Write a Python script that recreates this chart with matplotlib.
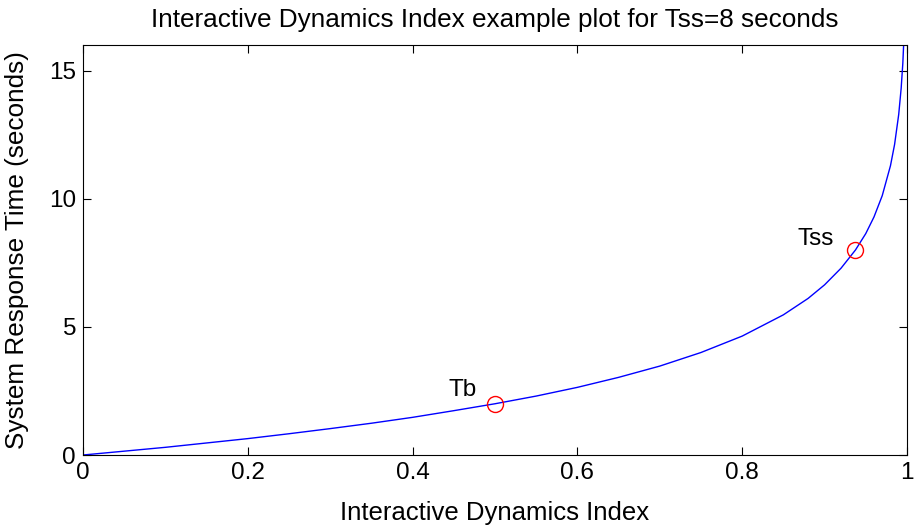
import matplotlib
matplotlib.use("Agg")
import matplotlib.pyplot as plt

plt.rcParams['font.family'] = ['Liberation Sans', 'DejaVu Sans']

# points along the response-time curve
idx = [0.0, 0.05, 0.1, 0.15, 0.2, 0.25, 0.3, 0.35, 0.4, 0.45, 0.5, 0.55, 0.6,
       0.65, 0.7, 0.75, 0.8, 0.85, 0.88, 0.9, 0.92, 0.9375, 0.95, 0.96, 0.97,
       0.98, 0.985, 0.99, 0.993, 0.995, 0.997]
resp = [0.0, 0.15, 0.30, 0.47, 0.64, 0.83, 1.03, 1.24, 1.47, 1.73, 2.0, 2.30,
        2.64, 3.03, 3.47, 4.0, 4.64, 5.47, 6.11, 6.64, 7.29, 8.0, 8.64, 9.29,
        10.12, 11.29, 12.12, 13.29, 14.32, 15.29, 16.76]

# marked points
mark_names = ['Tb', 'Tss']
mark_x = [0.5, 0.9375]
mark_y = [2.0, 8.0]

fig = plt.figure(figsize=(9.15, 5.27), dpi=100)
ax = fig.add_axes([0.0907, 0.1366, 0.9005, 0.778])

ax.plot(idx, resp, color='#0000ff', linewidth=1.0)
ax.plot(mark_x, mark_y, 'o', markersize=11.5, markerfacecolor='none',
        markeredgecolor='#ff0000', markeredgewidth=1.0)
ax.text(0.443, 2.3, mark_names[0], fontsize=17.5)
ax.text(0.867, 8.2, mark_names[1], fontsize=17.5)

ax.set_xlim(0, 1)
ax.set_ylim(0, 16)
ax.set_xticks([0, 0.2, 0.4, 0.6, 0.8, 1])
ax.set_xticklabels(['0', '0.2', '0.4', '0.6', '0.8', '1'])
ax.set_yticks([0, 5, 10, 15])
ax.tick_params(direction='in', top=True, right=True, labelsize=17.5, length=6,
               width=0.8, pad=5)
for s in ax.spines.values():
    s.set_linewidth(0.8)

ax.set_title('Interactive Dynamics Index example plot for Tss=8 seconds',
             fontsize=18.8, pad=13)
ax.set_xlabel('Interactive Dynamics Index', fontsize=18.5, labelpad=12)
ax.set_ylabel('System Response Time (seconds)', fontsize=18.8, labelpad=14)

fig.savefig('out.png', dpi=100)
